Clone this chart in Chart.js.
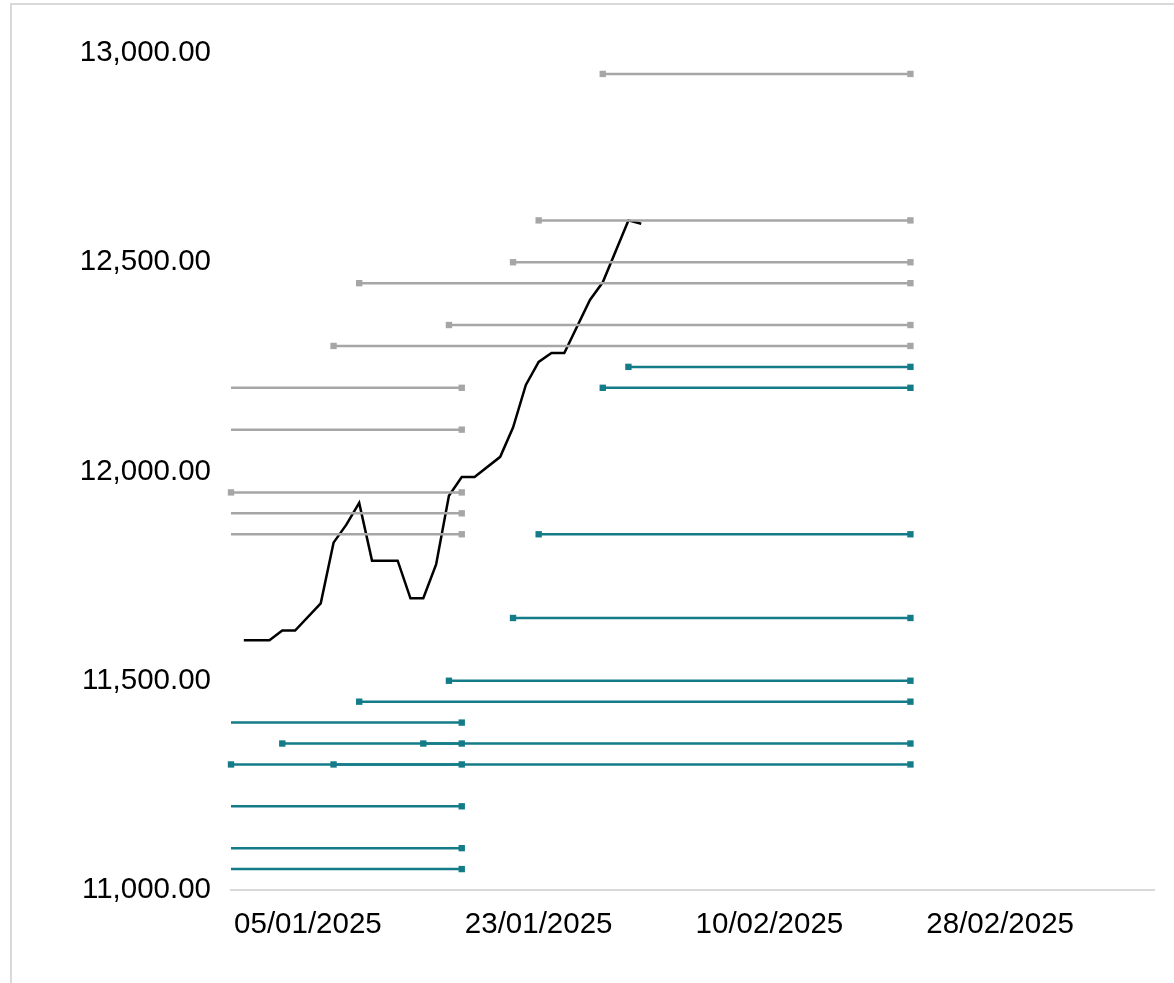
<!DOCTYPE html>
<html>
<head>
<meta charset="utf-8">
<title>Support and resistance</title>
<script src="https://cdn.jsdelivr.net/npm/chart.js@4.4.1/dist/chart.umd.min.js"></script>
<style>
  html, body { margin: 0; padding: 0; background: #fff; overflow: hidden; }
  #frame {
    position: absolute; left: 10px; top: 3px; width: 1200px; height: 1000px;
    border-left: 2px solid #d9d9d9; border-top: 2px solid #d9d9d9;
  }
  #chart { position: absolute; left: 0; top: 0; }
</style>
</head>
<body>
<div id="frame"></div>
<canvas id="chart" width="1174" height="983"></canvas>
<script>
// price (black line)
const priceDates = ['31/12/2024', '02/01/2025', '03/01/2025', '04/01/2025', '06/01/2025', '07/01/2025',
    '08/01/2025', '09/01/2025', '10/01/2025', '12/01/2025', '13/01/2025', '14/01/2025', '15/01/2025',
    '16/01/2025', '17/01/2025', '18/01/2025', '20/01/2025', '21/01/2025', '22/01/2025', '23/01/2025',
    '24/01/2025', '25/01/2025', '27/01/2025', '28/01/2025', '30/01/2025', '31/01/2025'];
const priceValues = [11597, 11597, 11620, 11620, 11685, 11830, 11873, 11925, 11787, 11787, 11697, 11697,
    11778, 11942, 11987, 11987, 12035, 12105, 12207, 12262, 12283, 12283, 12410, 12452, 12600, 12592];

// resistance levels (grey)
const resistanceLevels = [12950, 12600, 12500, 12450, 12350, 12300, 12200, 12100, 11950, 11900, 11850];
const resistanceStart = ['28/01/2025', '23/01/2025', '21/01/2025', '09/01/2025', '16/01/2025', '07/01/2025',
    '26/12/2024', '26/12/2024', '30/12/2024', '26/12/2024', '26/12/2024'];
const resistanceEnd = ['21/02/2025', '21/02/2025', '21/02/2025', '21/02/2025', '21/02/2025', '21/02/2025',
    '17/01/2025', '17/01/2025', '17/01/2025', '17/01/2025', '17/01/2025'];

// support levels (teal)
const supportLevels = [12250, 12200, 11850, 11650, 11500, 11450, 11400, 11350, 11350, 11300, 11300, 11200, 11100, 11050];
const supportStart = ['30/01/2025', '28/01/2025', '23/01/2025', '21/01/2025', '16/01/2025', '09/01/2025',
    '26/12/2024', '03/01/2025', '14/01/2025', '30/12/2024', '07/01/2025', '26/12/2024', '26/12/2024', '26/12/2024'];
const supportEnd = ['21/02/2025', '21/02/2025', '21/02/2025', '21/02/2025', '21/02/2025', '21/02/2025',
    '17/01/2025', '17/01/2025', '21/02/2025', '17/01/2025', '21/02/2025', '17/01/2025', '17/01/2025', '17/01/2025'];

// axis
const tickDates = ['05/01/2025', '23/01/2025', '10/02/2025', '28/02/2025'];
const xMinDate = '30/12/2024';
const xMaxDate = '12/03/2025';
const yTicks = [11000, 11500, 12000, 12500, 13000];

const GREY = '#a6a6a6';
const TEAL = '#137c88';
const FONT = "'Liberation Sans', Arial, sans-serif";

// days since 01/01/2025
function toDay(s) {
    const p = s.split('/');
    return (Date.UTC(+p[2], +p[1] - 1, +p[0]) - Date.UTC(2025, 0, 1)) / 86400000;
}
function fmtDay(d) {
    const dt = new Date(Date.UTC(2025, 0, 1) + d * 86400000);
    const dd = String(dt.getUTCDate()).padStart(2, '0');
    const mm = String(dt.getUTCMonth() + 1).padStart(2, '0');
    return dd + '/' + mm + '/' + dt.getUTCFullYear();
}

const xMin = toDay(xMinDate);
const xMax = toDay(xMaxDate);

function levelSet(levels, starts, ends, color) {
    return levels.map(function (v, i) {
        const a = toDay(starts[i]);
        return {
            data: [{ x: a, y: v }, { x: toDay(ends[i]), y: v }],
            borderColor: color,
            backgroundColor: color,
            borderWidth: 2.5,
            pointStyle: 'rect',
            pointRadius: 4.5,
            pointBorderWidth: 0,
            pointBackgroundColor: color,
            showLine: true,
            clip: a < xMin ? { left: 0, right: 6, top: 6, bottom: 6 } : 6
        };
    });
}

const priceSet = {
    data: priceDates.map(function (d, i) { return { x: toDay(d), y: priceValues[i] }; }),
    borderColor: '#000000',
    borderWidth: 2.5,
    pointRadius: 0,
    showLine: true,
    tension: 0
};

const datasets = levelSet(resistanceLevels, resistanceStart, resistanceEnd, GREY)
    .concat(levelSet(supportLevels, supportStart, supportEnd, TEAL))
    .concat([priceSet]);

new Chart(document.getElementById('chart'), {
    type: 'scatter',
    data: { datasets: datasets },
    options: {
        responsive: false,
        animation: false,
        devicePixelRatio: 1,
        layout: { padding: { top: 53, right: 20, bottom: 0, left: 0 } },
        plugins: { legend: { display: false }, tooltip: { enabled: false } },
        scales: {
            x: {
                type: 'linear',
                min: xMin,
                max: xMax,
                grid: { display: false, drawTicks: false },
                border: { display: true, color: '#d9d9d9', width: 2 },
                afterBuildTicks: function (s) { s.ticks = tickDates.map(function (t) { return { value: toDay(t) }; }); },
                afterFit: function (s) { s.height = 93; },
                ticks: {
                    color: '#000',
                    font: { family: FONT, size: 29.5 },
                    padding: 17,
                    maxRotation: 0,
                    autoSkip: false,
                    callback: function (v) { return fmtDay(v); }
                }
            },
            y: {
                min: yTicks[0],
                max: yTicks[yTicks.length - 1],
                grid: { display: false, drawTicks: false },
                border: { display: false },
                afterBuildTicks: function (s) { s.ticks = yTicks.map(function (v) { return { value: v }; }); },
                afterFit: function (s) { s.width = 231; },
                ticks: {
                    color: '#000',
                    font: { family: FONT, size: 29.5 },
                    padding: 20,
                    callback: function (v) {
                        return v.toLocaleString('en-US', { minimumFractionDigits: 2, maximumFractionDigits: 2 });
                    }
                }
            }
        }
    }
});
</script>
</body>
</html>
